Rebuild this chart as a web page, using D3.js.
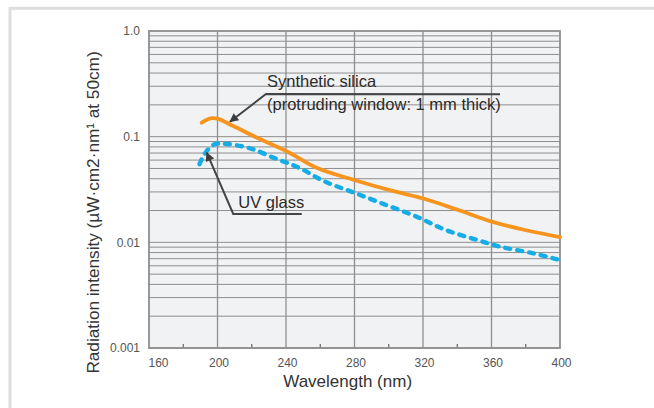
<!DOCTYPE html>
<html>
<head>
<meta charset="utf-8">
<script src="https://cdn.jsdelivr.net/npm/d3@7"></script>
<style>
  html, body { margin: 0; padding: 0; background: #fff; }
  svg { display: block; font-family: "Liberation Sans", Arial, Helvetica, sans-serif; }
</style>
</head>
<body>
<svg id="chart" width="654" height="408"></svg>
<script>
// Relative radiation intensity of a deuterium lamp vs wavelength, for two window materials
const silicaWavelength = [190.8, 195.9, 200, 209.2, 223.8, 240.9, 257.9, 279.8, 301.7, 321.2, 340.6, 360.1, 379.6, 400];
const silicaIntensity  = [0.1356, 0.1492, 0.148, 0.126, 0.0965, 0.0721, 0.0508, 0.0389, 0.0308, 0.0257, 0.0202, 0.01568, 0.01308, 0.0112];

const uvWavelength = [189.5, 192.7, 198.3, 205.6, 219.0, 233.6, 248.2, 262.8, 279.8, 296.8, 316.3, 333.3, 350.4, 365.0, 384.4, 400];
const uvIntensity  = [0.055, 0.0696, 0.0847, 0.0852, 0.0776, 0.0624, 0.0502, 0.0375, 0.0295, 0.0231, 0.01748, 0.01308, 0.01069, 0.0091, 0.00787, 0.0068];

const xTicks = [160, 200, 240, 280, 320, 360, 400];
const xMinorTicks = [180, 220, 260, 300, 340, 380];
const yTicks = [0.001, 0.01, 0.1, 1];
const yTickLabels = ["0.001", "0.01", "0.1", "1.0"];

const svg = d3.select("#chart");
const W = 654, H = 408;
const margin = { top: 31, right: 94, bottom: 60, left: 149 };
const pw = W - margin.left - margin.right;
const ph = H - margin.top - margin.bottom;

// page frame
svg.append("rect")
  .attr("x", 10).attr("y", 8.3).attr("width", 700).attr("height", 420)
  .attr("fill", "#fff").attr("stroke", "#dedede").attr("stroke-width", 3);

const x = d3.scaleLinear().domain([160, 400]).range([0, pw]);
const y = d3.scaleLog().domain([0.001, 1]).range([ph, 0]);

const g = svg.append("g").attr("transform", `translate(${margin.left},${margin.top})`);

g.append("rect").attr("width", pw).attr("height", ph).attr("fill", "#f1f2f4");

// logarithmic grid: every 1..9 × decade
const yGrid = [];
for (let e = -3; e < 0; e++) for (let k = 1; k <= 9; k++) yGrid.push(k * Math.pow(10, e));
g.append("g").selectAll("line").data(yGrid).join("line")
  .attr("x1", 0).attr("x2", pw)
  .attr("y1", d => y(d)).attr("y2", d => y(d))
  .attr("stroke", "#8e8e8e").attr("stroke-width", 1);

g.append("g").selectAll("line").data(xTicks.slice(1, -1)).join("line")
  .attr("x1", d => x(d)).attr("x2", d => x(d))
  .attr("y1", 0).attr("y2", ph)
  .attr("stroke", "#8e8e8e").attr("stroke-width", 1.3);

// minor ticks on the bottom edge
g.append("g").selectAll("line").data(xMinorTicks).join("line")
  .attr("x1", d => x(d)).attr("x2", d => x(d))
  .attr("y1", ph).attr("y2", ph - 4)
  .attr("stroke", "#666").attr("stroke-width", 1.2);

g.append("rect").attr("width", pw).attr("height", ph)
  .attr("fill", "none").attr("stroke", "#8e8e8e").attr("stroke-width", 1.8);

// axes labels
const xAxis = d3.axisBottom(x).tickValues(xTicks).tickSize(0).tickPadding(10);
g.append("g").attr("transform", `translate(0,${ph})`).call(xAxis)
  .call(s => s.select(".domain").remove())
  .call(s => s.selectAll("text").attr("font-size", 12).attr("fill", "#555")
    .attr("font-family", "Liberation Sans, Arial, sans-serif")
    .attr("dx", d => d === 160 ? 9 : 1));

const yAxis = d3.axisLeft(y).tickValues(yTicks)
  .tickFormat((d, i) => yTickLabels[i]).tickSize(0).tickPadding(9);
g.append("g").call(yAxis)
  .call(s => s.select(".domain").remove())
  .call(s => s.selectAll("text").attr("font-size", 12).attr("fill", "#555")
    .attr("font-family", "Liberation Sans, Arial, sans-serif"));

svg.append("text")
  .attr("x", margin.left + x(276)).attr("y", 387)
  .attr("text-anchor", "middle").attr("font-size", 17).attr("fill", "#333")
  .text("Wavelength (nm)");

svg.append("text")
  .attr("transform", "translate(98.5,212.5) rotate(-90)")
  .attr("text-anchor", "middle").attr("font-size", 17.2).attr("fill", "#333")
  .text("Radiation intensity (µW·cm2·nm¹ at 50cm)");

// curves
const line = d3.line().x(d => x(d[0])).y(d => y(d[1])).curve(d3.curveCatmullRom.alpha(0.5));

g.append("path")
  .datum(d3.zip(uvWavelength, uvIntensity))
  .attr("d", line).attr("fill", "none")
  .attr("stroke", "#16ade6").attr("stroke-width", 4.4)
  .attr("stroke-linecap", "round").attr("stroke-dasharray", "5,7");

g.append("path")
  .datum(d3.zip(silicaWavelength, silicaIntensity))
  .attr("d", line).attr("fill", "none")
  .attr("stroke", "#f7941d").attr("stroke-width", 3.8)
  .attr("stroke-linecap", "round");

// leader lines with arrowheads
svg.append("defs").append("marker")
  .attr("id", "arrow").attr("viewBox", "0 0 10 10")
  .attr("refX", 9).attr("refY", 5)
  .attr("markerWidth", 5).attr("markerHeight", 4.5)
  .attr("markerUnits", "strokeWidth")
  .attr("orient", "auto-start-reverse")
  .append("path").attr("d", "M0,0 L10,5 L0,10 Z").attr("fill", "#3d3d3d");

const leader = d3.line().x(d => x(d[0])).y(d => y(d[1]));

const silicaLeader = [[365, 0.252], [228.3, 0.2535], [207.3, 0.1386]];
g.append("path").attr("d", leader(silicaLeader))
  .attr("fill", "none").attr("stroke", "#444").attr("stroke-width", 2)
  .attr("marker-end", "url(#arrow)");

const uvLeader = [[249.2, 0.01854], [209.2, 0.01854], [193.7, 0.0705]];
g.append("path").attr("d", leader(uvLeader))
  .attr("fill", "none").attr("stroke", "#444").attr("stroke-width", 2)
  .attr("marker-end", "url(#arrow)");

const note = g.append("g").attr("font-size", 16.5).attr("fill", "#2b2b2b");
note.append("text").attr("x", x(228.9)).attr("y", y(0.295)).text("Synthetic silica");
note.append("text").attr("x", x(228.9)).attr("y", y(0.1788)).text("(protruding window: 1 mm thick)");
note.append("text").attr("x", x(212.1)).attr("y", y(0.0213)).text("UV glass");
</script>
</body>
</html>
